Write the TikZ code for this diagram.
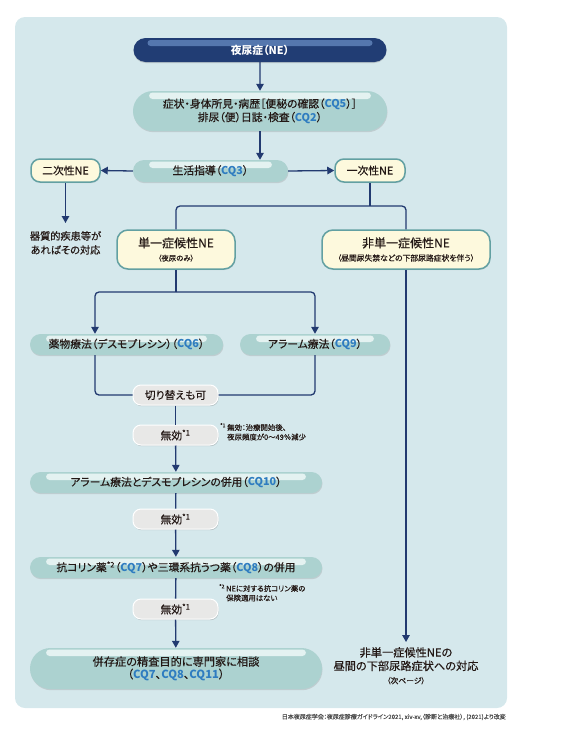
\documentclass[tikz,border=0pt]{standalone}
\usepackage{fontspec}
\setmainfont{Noto Sans CJK JP}[RawFeature=+palt, UprightFeatures={FakeBold=0.35}]
\usetikzlibrary{shapes.misc,arrows.meta,shadows,calc}
\definecolor{panel}{HTML}{D5E8EC}
\definecolor{navy}{HTML}{213D74}
\definecolor{navyhl}{HTML}{5577AE}
\definecolor{tealA}{HTML}{ACD2D0}
\definecolor{tealhl}{HTML}{E4F2F1}
\definecolor{cream}{HTML}{FDF9DD}
\definecolor{creamb}{HTML}{62A0A2}
\definecolor{grayf}{HTML}{E8E8E7}
\definecolor{linec}{HTML}{223A70}
\definecolor{txt}{HTML}{231815}
\definecolor{cqblue}{HTML}{2E7CC0}
\newcommand\cq[1]{\textcolor{cqblue}{\bfseries #1}}
\newcommand\fs[1]{\fontsize{#1}{#1}\selectfont}
\begin{document}
\begin{tikzpicture}[x=1pt,y=-1pt,
  base/.style={font=\fontsize{10.8}{13.5}\selectfont, text=txt, align=center, inner sep=0pt},
  navybox/.style={base, rounded rectangle, fill=navy, text=white, minimum width=253pt, minimum height=24pt,
    drop shadow={opacity=.3, shadow xshift=0pt, shadow yshift=-1pt},
    path picture={\fill[navyhl, rounded corners=3pt] ([xshift=14pt,yshift=-2pt]path picture bounding box.north west) rectangle ([xshift=-14pt,yshift=-8pt]path picture bounding box.north east);}},
  tealbox/.style={base, rounded rectangle, fill=tealA,
    drop shadow={opacity=.25, shadow xshift=0.5pt, shadow yshift=-1.2pt},
    path picture={\fill[tealhl, rounded corners=3.5pt] ([xshift=16pt,yshift=-1.5pt]path picture bounding box.north west) rectangle ([xshift=-16pt,yshift=-8pt]path picture bounding box.north east);}},
  creambox/.style={base, rectangle, rounded corners=11pt, fill=cream, draw=creamb, line width=1.5pt,
    drop shadow={opacity=.2, shadow xshift=0.5pt, shadow yshift=-1pt}},
  graybox/.style={base, rectangle, rounded corners=8pt, fill=grayf, draw=white, line width=1pt,
    minimum width=85pt, minimum height=20pt,
    drop shadow={opacity=.35, shadow xshift=0.6pt, shadow yshift=-1.2pt}},
  plain/.style={base},
  note/.style={base, font=\fontsize{7.4}{9.5}\selectfont, align=left},
  conn/.style={draw=linec, line width=1.3pt},
  arr/.style={conn, -{Triangle[width=7.5pt,length=7pt]}},
]
\useasboundingbox (0,0) rectangle (561,736);
\fill[panel, rounded corners=10pt] (15,17) rectangle (507,708);

% nodes
\node[navybox] (ne) at (260,50) {\bfseries 夜尿症（NE）};
\node[tealbox, minimum width=254pt, minimum height=40pt] (sym) at (260,111)
  {症状・身体所見・病歴［便秘の確認（\cq{CQ5}）］\\排尿（便）日誌・検査（\cq{CQ2}）};
\node[tealbox, minimum width=155pt, minimum height=22pt] (life) at (210.5,171) {生活指導（\cq{CQ3}）};
\node[creambox, minimum width=69pt, minimum height=23pt, rounded corners=9pt] (sec) at (65.5,170.5) {二次性NE};
\node[creambox, minimum width=70pt, minimum height=23pt, rounded corners=9pt] (pri) at (370,170.5) {一次性NE};
\node[plain, anchor=north, font=\fontsize{10.2}{14}\selectfont, inner ysep=8pt] (organ) at (65.5,223) {器質的疾患等が\\あればその対応};
\node[creambox, minimum width=118pt, minimum height=39pt] (single) at (176,249.5)
  {{\fontsize{12}{14}\selectfont 単一症候性NE}\\{\fs{7.4}（夜尿のみ）}};
\node[creambox, minimum width=168pt, minimum height=39pt] (nonsingle) at (406,249.5)
  {{\fontsize{12}{14}\selectfont 非単一症候性NE}\\{\fs{7.8}（昼間尿失禁などの下部尿路症状を伴う）}};
\node[tealbox, minimum width=193pt, minimum height=21pt] (drug) at (126.5,344.5) {薬物療法（デスモプレシン）（\cq{CQ6}）};
\node[tealbox, minimum width=150pt, minimum height=21pt] (alarm) at (315,344.5) {アラーム療法（\cq{CQ9}）};
\node[graybox] (switch) at (175.5,395) {切り替えも可};
\node[graybox] (inv1) at (175.5,435) {無効\textsuperscript{*1}};
\node[tealbox, minimum width=292pt, minimum height=21pt] (cq10) at (176,482.5) {アラーム療法とデスモプレシンの併用（\cq{CQ10}）};
\node[graybox] (inv2) at (175.5,519) {無効\textsuperscript{*1}};
\node[tealbox, minimum width=292pt, minimum height=21pt] (cq78) at (176,567.5)
  {抗コリン薬\textsuperscript{*2}（\cq{CQ7}）や三環系抗うつ薬（\cq{CQ8}）の併用};
\node[graybox] (inv3) at (175.5,609) {無効\textsuperscript{*1}};
\node[tealbox, minimum width=292pt, minimum height=41pt, font=\fontsize{11.2}{12.5}\selectfont] (final) at (176,668.5)
  {併存症の精査目的に専門家に相談\\（\cq{CQ7}、\cq{CQ8}、\cq{CQ11}）};
\node[plain, anchor=north, inner ysep=5pt, font=\fontsize{11.2}{13.5}\selectfont] (rtext) at (406,642)
  {非単一症候性NEの\\昼間の下部尿路症状への対応\\{\fs{7.8}（次ページ）}};

% notes
\node[note, anchor=north west] (note1) at (220,423)
  {\begin{tabular}{@{}l@{\,}l@{}}\textsuperscript{*1}&無効：治療開始後、\\ &夜尿頻度が0～49％減少\end{tabular}};
\node[note, anchor=north west] (note2) at (219,584)
  {\begin{tabular}{@{}l@{\,}l@{}}\textsuperscript{*2}&NEに対する抗コリン薬の\\ &保険適用はない\end{tabular}};
\node[base, anchor=east, font=\fontsize{6}{6}\selectfont, text=black!70] (src) at (506,717)
  {日本夜尿症学会：夜尿症診療ガイドライン2021, xiv-xv,（診断と治療社）, (2021)より改変};

% coordinates
\coordinate (fork1) at (370,206);
\coordinate (fork2) at (176,292);

% connectors
\draw[arr] (ne) -- (sym);
\draw[arr] (sym.south) -- (sym.south |- life.north);
\draw[arr] (life.west) -- (sec.east);
\draw[arr] (life.east) -- (pri.west);
\draw[arr] (sec.south) -- (organ.north);
\draw[conn] (pri.south) -- (fork1);
\draw[conn, rounded corners=4pt] (single.north) |- (fork1) -| (nonsingle.north);
\draw[arr] (nonsingle.south) -- (rtext.north);
\draw[conn] (single.south) -- (fork2);
\draw[arr, rounded corners=4pt] (fork2) -| ([xshift=-31.5pt]drug.north);
\draw[arr, rounded corners=4pt] (fork2) -| (alarm.north);
\draw[conn, rounded corners=4pt] ([xshift=-31.5pt]drug.south) |- (switch.west);
\draw[conn, rounded corners=4pt] (alarm.south) |- (switch.east);
\draw[conn] (switch) -- (inv1);
\draw[arr] (inv1) -- (cq10);
\draw[conn] (cq10) -- (inv2);
\draw[arr] (inv2) -- (cq78);
\draw[conn] (cq78) -- (inv3);
\draw[arr] (inv3) -- (final);
\end{tikzpicture}
\end{document}
